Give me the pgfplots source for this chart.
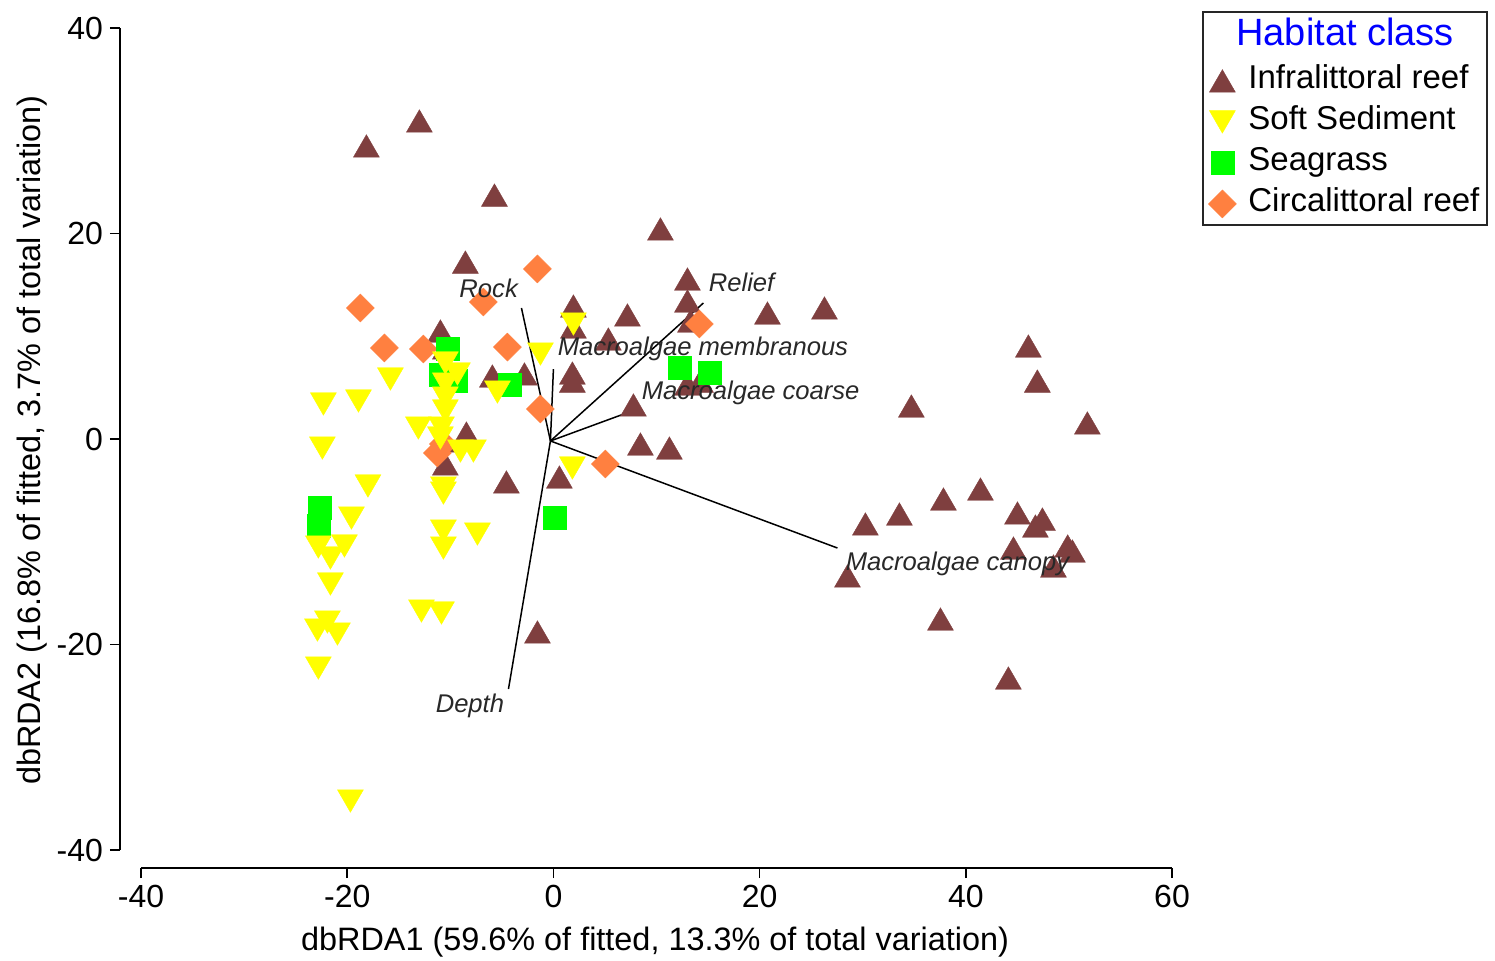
\documentclass[border=0pt]{standalone}
\usepackage{fontspec}
\setmainfont{Liberation Sans}
\usepackage{pgfplots}
\pgfplotsset{compat=1.18}
\definecolor{infra}{RGB}{127,63,63}
\definecolor{soft}{RGB}{255,255,0}
\definecolor{seag}{RGB}{0,255,0}
\definecolor{circ}{RGB}{255,128,64}
\definecolor{vtext}{RGB}{40,40,40}
\begin{document}
\begin{tikzpicture}
\begin{axis}[
  set layers,
  at={(0,0)}, anchor=south west,
  scale only axis, width=526pt, height=420pt,
  xmin=-42.04, xmax=60, ymin=-41.75, ymax=40,
  axis x line*=bottom, axis y line*=left,
  x axis line style={-, line width=0.75pt, shorten <=10.5pt},
  y axis line style={-, line width=0.75pt, shorten <=9pt},
  xtick={-40,-20,0,20,40,60}, ytick={-40,-20,0,20,40},
  tick align=outside, major tick length=5pt,
  tick style={line width=0.75pt, black},
  /pgf/number format/assume math mode=true,
  ticklabel style={font=\fontsize{16}{19}\selectfont},
  label style={font=\fontsize{16.2}{19}\selectfont},
  xlabel={dbRDA1 (59.6\% of fitted, 13.3\% of total variation)},
  ylabel={dbRDA2 (16.8\% of fitted, 3.7\% of total variation)},
  xlabel style={at={(axis description cs:0.5086,-0.0988)}, anchor=base},
  ylabel style={at={(axis description cs:-0.076,0.5095)}, anchor=base},
  clip=false,
  legend cell align=left,
  legend style={at={(axis description cs:1.0342,0.9619)}, anchor=north west,
    draw=none, fill=none, inner sep=0pt, row sep=0pt, column sep=6pt,
    font=\fontsize{16.5}{20}\selectfont,
    nodes={inner sep=0pt, text height=14pt, text depth=6.5pt}},
]
% Infralittoral reef
\addplot[only marks, mark=triangle*, mark size=7.5pt,
  mark options={yshift=-1.875pt, fill=infra, draw=infra, line width=0.2pt}] coordinates {
(-18.14,28.52) (-13.00,30.95) (-5.72,23.74) (-8.54,17.22) (10.38,20.44)
(13.00,15.57) (13.00,13.43) (13.29,11.48) (20.76,12.26) (26.29,12.75)
(1.94,12.94) (1.94,10.90) (7.18,12.07) (5.33,9.73) (1.84,6.42)
(1.84,5.64) (7.76,3.31) (8.44,-0.49) (11.25,-0.88) (13.00,5.35)
(14.26,5.64) (-10.96,10.51) (-10.48,8.86) (-5.92,6.13) (-2.81,6.33)
(-4.56,-4.18) (0.58,-3.70) (-1.55,-18.78) (-10.48,-2.43) (-10.48,-0.19)
(-8.44,0.58) (46.07,9.05) (46.94,5.64) (34.72,3.21) (51.79,1.56)
(30.26,-8.27) (33.56,-7.30) (37.83,-5.84) (41.42,-4.87) (45.01,-7.20)
(47.43,-7.79) (46.75,-8.47) (44.62,-10.61) (49.88,-10.41) (50.34,-10.90)
(48.50,-12.36) (28.52,-13.33) (37.54,-17.52) (44.13,-23.26)
};
\addlegendentry{Infralittoral reef}
% Circalittoral reef (drawn beneath the soft-sediment marks)
\addplot[only marks, mark=square*, mark size=4.95pt, forget plot,
  mark options={rotate=45, fill=circ, draw=circ, line width=0.2pt}] coordinates {
(-18.72,12.75) (-16.39,8.86) (-12.61,8.76) (-4.46,8.95) (-6.79,13.33)
(-1.55,16.55) (-1.26,2.92) (5.04,-2.43) (14.16,11.19) (-10.67,-0.49)
(-11.25,-1.36)
};
% Seagrass
\addplot[only marks, mark=square*, mark size=5.75pt, forget plot,
  mark options={fill=seag, draw=seag, line width=0.2pt}] coordinates {
(-10.28,8.76) (-9.51,5.64) (-10.96,6.23) (-4.27,5.26) (0.10,-7.69)
(12.22,6.91) (15.13,6.42) (-22.70,-6.72) (-22.79,-8.47)
};
% Soft sediment
\addplot[only marks, mark=triangle*, mark size=7.5pt,
  mark options={yshift=1.875pt, rotate=180, fill=soft, draw=soft, line width=0.2pt}] coordinates {
(-22.31,3.41) (-18.91,3.70) (-15.81,5.84) (-22.41,-0.88) (-17.99,-4.57)
(-19.59,-7.69) (-22.80,-10.51) (-20.27,-10.41) (-21.63,-11.58) (-21.63,-14.11)
(-21.92,-17.81) (-22.89,-18.59) (-20.95,-18.98) (-22.80,-22.29) (-19.69,-35.23)
(-10.67,-4.77) (-10.67,-8.96) (-10.67,-10.61) (-7.37,-9.25) (-12.80,-16.74)
(-10.86,-16.93) (-1.26,8.27) (-5.43,4.57) (-10.48,7.40) (-10.48,5.35)
(-10.48,3.99) (-10.48,2.73) (-10.86,1.07) (-13.10,1.07) (-10.96,0.10)
(-9.02,-1.17) (-7.76,-1.17) (-10.67,-5.26) (1.94,11.19) (1.84,-2.82)
(-9.31,6.33)
};
\addlegendentry{Soft Sediment}
\addlegendimage{only marks, mark=square*, mark size=5.75pt, mark options={fill=seag, draw=seag, line width=0.2pt}}
\addlegendentry{Seagrass}
\addlegendimage{only marks, mark=square*, mark size=4.95pt, mark options={rotate=45, fill=circ, draw=circ, line width=0.2pt}}
\addlegendentry{Circalittoral reef}
% biplot vectors
\addplot[black, line width=0.75pt, no marks, forget plot] coordinates {(-0.29,-0.19) (-3.10,12.75)};
\addplot[black, line width=0.75pt, no marks, forget plot] coordinates {(-0.29,-0.19) (0.0,6.81)};
\addplot[black, line width=0.75pt, no marks, forget plot] coordinates {(-0.29,-0.19) (14.55,13.24)};
\addplot[black, line width=0.75pt, no marks, forget plot] coordinates {(-0.29,-0.19) (8.15,2.92)};
\addplot[black, line width=0.75pt, no marks, forget plot] coordinates {(-0.29,-0.19) (27.55,-10.61)};
\addplot[black, line width=0.75pt, no marks, forget plot] coordinates {(-0.29,-0.19) (-4.36,-24.33)};
\begin{pgfonlayer}{axis foreground}
\begin{scope}[every node/.style={anchor=base west, text=vtext, font=\fontsize{12.8}{15}\selectfont\itshape, inner sep=0pt}]
\node at (axis cs:-9.15,13.82) {Rock};
\node at (axis cs:15.04,14.31) {Relief};
\node at (axis cs:0.39,8.08) {Macroalgae membranous};
\node at (axis cs:8.53,3.80) {Macroalgae coarse};
\node at (axis cs:28.32,-12.75) {Macroalgae canopy};
\node at (axis cs:-11.45,-26.57) {Depth};
\end{scope}
\draw[line width=0.75pt, black!85] (axis description cs:1.0295,1.019) rectangle (axis description cs:1.2994,0.7655);
\node[font=\fontsize{19}{22}\selectfont, text=blue, anchor=base] at (axis description cs:1.1645,0.9786) {Habitat class};
\end{pgfonlayer}
\end{axis}
\pgfresetboundingbox
\path[use as bounding box] (-60pt,-46pt) rectangle (687.5pt,434pt);
\end{tikzpicture}
\end{document}
